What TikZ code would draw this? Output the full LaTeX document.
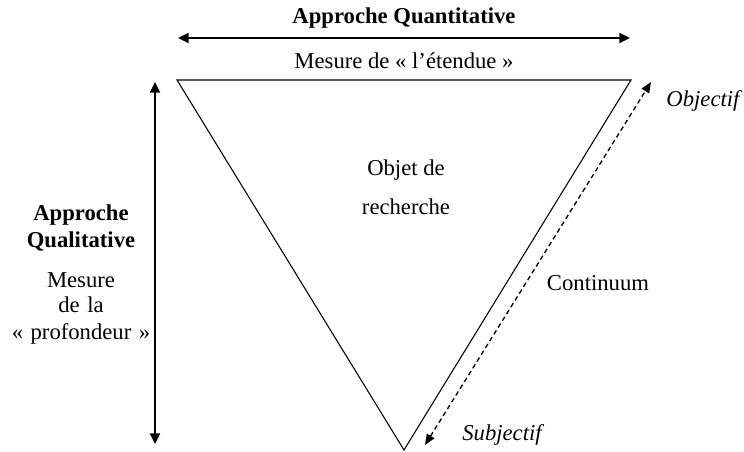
\documentclass[tikz,border=0pt]{standalone}
\usepackage{fontspec}
\setmainfont{Liberation Serif}
\usetikzlibrary{arrows.meta}
\begin{document}
\begin{tikzpicture}[x=0.75pt,y=-0.75pt,
  lbl/.style={inner sep=0pt,font=\fontsize{17}{20}\selectfont,align=center},
  blbl/.style={lbl,font=\fontsize{17}{20}\selectfont\bfseries},
  ilbl/.style={lbl,font=\fontsize{17}{20}\selectfont\itshape},
  arr/.style={line width=1.3pt,{Triangle[length=8pt,width=7.5pt]}-{Triangle[length=8pt,width=7.5pt]}},
  darr/.style={line width=1pt,dash pattern=on 3.5pt off 2.5pt,{Triangle[length=8pt,width=6.5pt]}-{Triangle[length=8pt,width=6.5pt]}}]
\useasboundingbox (0,0) rectangle (744,452);
\coordinate (tl) at (177,80);
\coordinate (tr) at (631,80);
\coordinate (bt) at (404,450);
\draw[line width=0.8pt] (tl) -- (tr) -- (bt) -- cycle;
\coordinate (ha) at (178,38);
\coordinate (hb) at (630,38);
\draw[arr] (ha) -- (hb);
\coordinate (va) at (155,82);
\coordinate (vb) at (155,444);
\draw[arr] (va) -- (vb);
\coordinate (da) at (425,445);
\coordinate (db) at (651,82);
\draw[darr] (da) -- (db);
\node[blbl] (aqt) at (404,18) {Approche Quantitative};
\node[lbl] (met) at (404,61) {Mesure de « l’étendue »};
\node[blbl,text width=140pt] (aql) at (81,228) {Approche\\Qualitative};
\node[lbl,text width=140pt] (mpr) at (81,308) {Mesure\\[-1pt]de la\\« profondeur »};
\node[lbl] (obj) at (406,187) {Objet de\\[9pt]recherche};
\node[lbl] (con) at (598,283) {Continuum};
\node[ilbl] (obf) at (703,101) {Objectif};
\node[ilbl] (sbf) at (502,435) {Subjectif};
\end{tikzpicture}
\end{document}
